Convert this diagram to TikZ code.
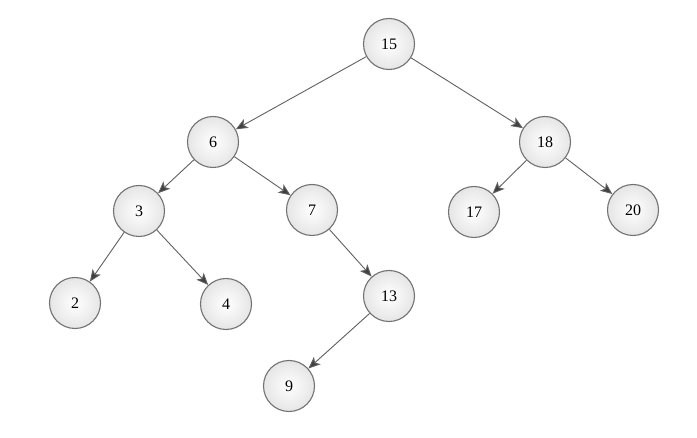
\documentclass[tikz,border=0pt]{standalone}
\usepackage{fontspec}
\setmainfont{Liberation Serif}
\usetikzlibrary{arrows.meta}
\tikzset{
  treenode/.style={circle, minimum size=51pt, inner sep=0pt, draw=black!55, line width=1.1pt,
    inner color=white, outer color=black!10, font=\fontsize{16}{16}\selectfont},
  edge/.style={draw=black!62, line width=0.9pt, -{Stealth[length=12pt,width=10pt,inset=3pt,fill=black!75]}}
}
\begin{document}
\begin{tikzpicture}[x=1pt,y=-1pt]
\useasboundingbox[fill=white] (0,0) rectangle (697,438);
\node[treenode] (n15) at (389,44) {15};
\node[treenode] (n6) at (213,142) {6};
\node[treenode] (n18) at (545,142) {18};
\node[treenode] (n3) at (139,211) {3};
\node[treenode] (n7) at (312,210) {7};
\node[treenode] (n17) at (474,212) {17};
\node[treenode] (n20) at (633,210) {20};
\node[treenode] (n2) at (75,303) {2};
\node[treenode] (n4) at (226,304) {4};
\node[treenode] (n13) at (389,296) {13};
\node[treenode] (n9) at (289,386) {9};
\draw[edge] (n15) -- (n6);
\draw[edge] (n15) -- (n18);
\draw[edge] (n6) -- (n3);
\draw[edge] (n6) -- (n7);
\draw[edge] (n18) -- (n17);
\draw[edge] (n18) -- (n20);
\draw[edge] (n3) -- (n2);
\draw[edge] (n3) -- (n4);
\draw[edge] (n7) -- (n13);
\draw[edge] (n13) -- (n9);
\end{tikzpicture}
\end{document}
